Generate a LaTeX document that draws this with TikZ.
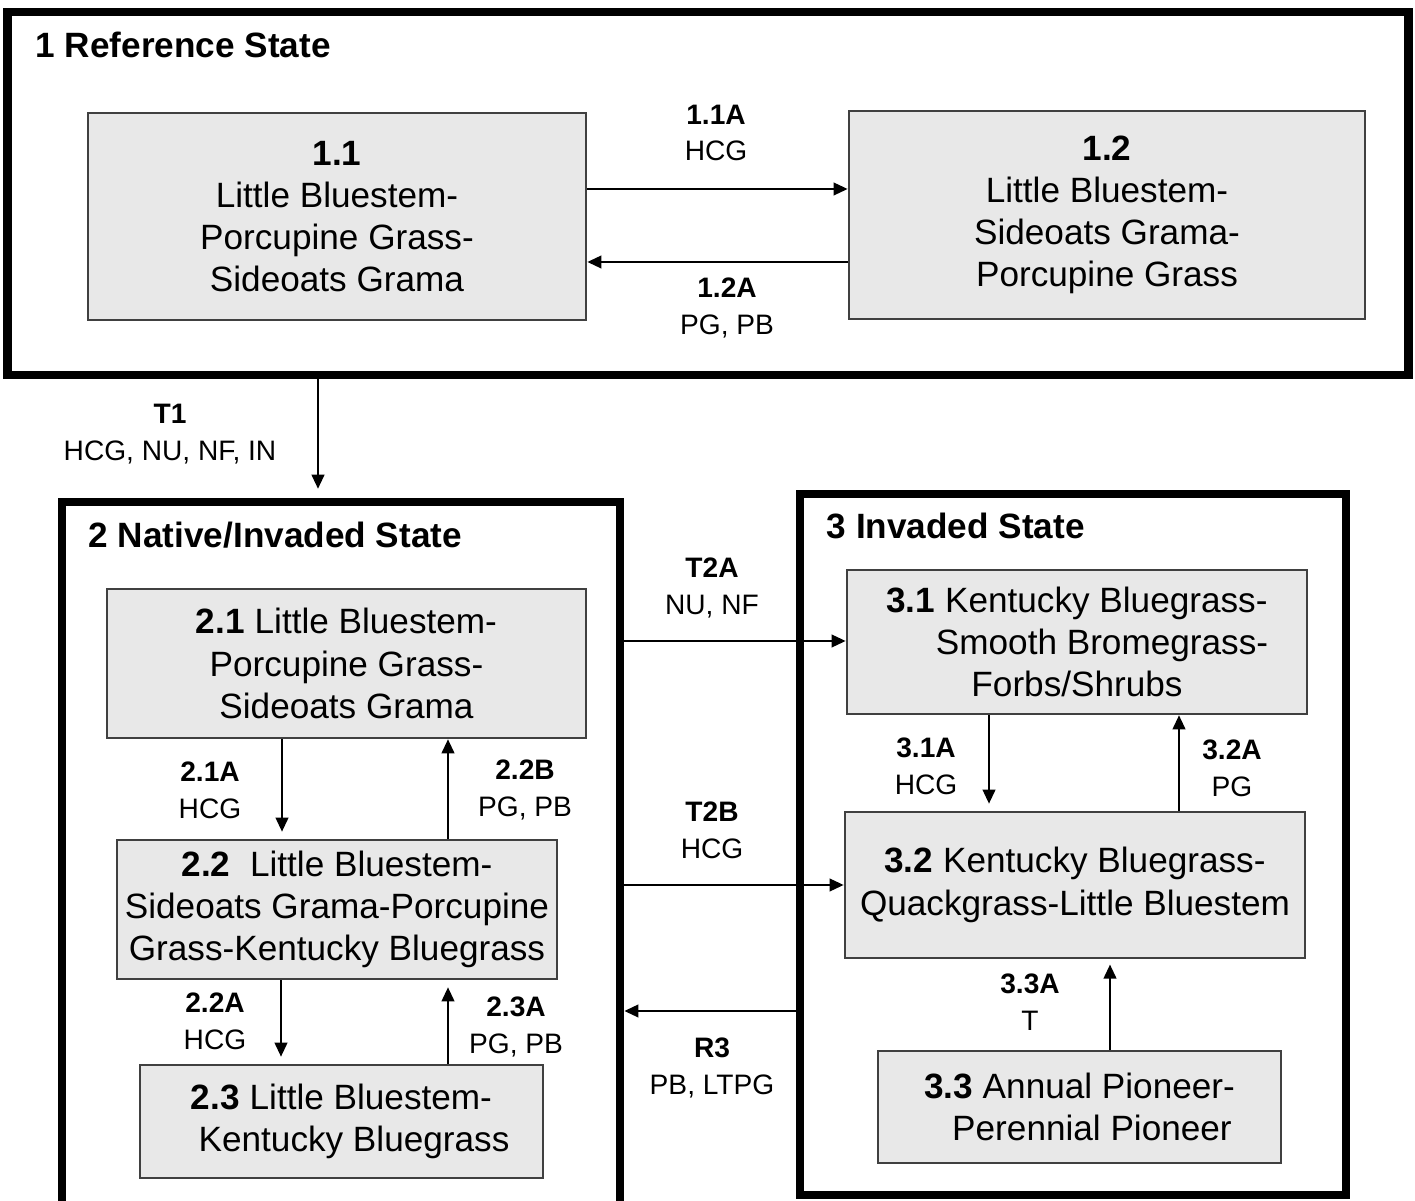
\documentclass[tikz,border=0pt]{standalone}
\usepackage{fontspec}
\setmainfont{Liberation Sans}
\usetikzlibrary{arrows.meta}

\begin{document}
\begin{tikzpicture}[x=0.01cm, y=-0.01cm, >={Triangle[length=4pt,width=3.6pt]},
	frame/.style={draw, line width=2.4pt, rectangle, inner sep=0pt},
	stbox/.style={draw=black!75, line width=0.7pt, fill=gray!18, align=center, inner sep=0pt, font=\fontsize{10}{12}\selectfont},
	title/.style={anchor=west, inner sep=0pt, font=\bfseries\fontsize{10}{12}\selectfont},
	lbl/.style={align=center, inner sep=1pt, font=\fontsize{8}{10.5}\selectfont},
	arr/.style={->, line width=0.6pt}]
	\useasboundingbox (0,0) rectangle (1415,1201);
	
	% ==================== 1 Reference State ====================
	\node[frame, minimum width=14.00cm, minimum height=3.63cm] (s1) at (708,193.5) {};
	\node[title] (t1) at (35,45) {1 Reference State};
	
	\node[stbox, minimum width=4.98cm, minimum height=2.07cm] (b11) at (337,216.5) {\textbf{1.1}\\Little Bluestem-\\Porcupine Grass-\\Sideoats Grama};
	\node[stbox, minimum width=5.16cm, minimum height=2.08cm] (b12) at (1107,215) {\textbf{1.2}\\Little Bluestem-\\Sideoats Grama-\\Porcupine Grass};
	
	\draw[arr] (b11.east |- 0,189) -- (b12.west |- 0,189);
	\draw[arr] (b12.west |- 0,262) -- (b11.east |- 0,262);
	\node[lbl] (l11a) at (716,133) {\textbf{1.1A}\\HCG};
	\node[lbl] (l12a) at (727,308) {\textbf{1.2A}\\PG, PB};
	
	% ==================== 2 Native/Invaded State ====================
	\node[frame, minimum width=5.58cm, minimum height=7.03cm] (s2) at (341,853.5) {};
	\node[title] (t2) at (88,535) {2 Native/Invaded State};
	
	% T1 从状态1到状态2
	\draw[arr, shorten >=2.5pt] (s1.south -| 318,0) -- (s2.north -| 318,0);
	\node[lbl] (lt1) at (170,434) {\textbf{T1}\\HCG, NU, NF, IN};
	
	\node[stbox, minimum width=4.79cm, minimum height=1.49cm] (b21) at (346.5,663.5) {\textbf{2.1} Little Bluestem-\\Porcupine Grass-\\Sideoats Grama};
	\node[stbox, minimum width=4.40cm, minimum height=1.39cm] (b22) at (337,909.5) {\textbf{2.2}\ \ Little Bluestem-\\Sideoats Grama-Porcupine\\Grass-Kentucky Bluegrass};
	\node[stbox, minimum width=4.03cm, minimum height=1.13cm] (b23) at (341.5,1121.5) {\textbf{2.3} Little Bluestem-\\\hspace*{2.5mm}Kentucky Bluegrass};
	
	\draw[arr, shorten >=2pt] (b21.south -| 282,0) -- (b22.north -| 282,0);
	\draw[arr] (b22.north -| 448,0) -- (b21.south -| 448,0);
	\draw[arr, shorten >=2pt] (b22.south -| 281,0) -- (b23.north -| 281,0);
	\draw[arr, shorten >=2pt] (b23.north -| 448,0) -- (b22.south -| 448,0);
	\node[lbl] (l21a) at (210,790) {\textbf{2.1A}\\HCG};
	\node[lbl] (l22b) at (525,790) {\textbf{2.2B}\\PG, PB};
	\node[lbl] (l22a) at (215,1021) {\textbf{2.2A}\\HCG};
	\node[lbl] (l23a) at (516,1027) {\textbf{2.3A}\\PG, PB};
	
	% ==================== 3 Invaded State ====================
	\node[frame, minimum width=5.46cm, minimum height=7.01cm] (s3) at (1073,844.5) {};
	\node[title] (t3) at (826,526) {3 Invaded State};
	
	\node[stbox, minimum width=4.60cm, minimum height=1.44cm] (b31) at (1077,642) {\textbf{3.1} Kentucky Bluegrass-\\\hspace*{5mm}Smooth Bromegrass-\\Forbs/Shrubs};
	\node[stbox, minimum width=4.60cm, minimum height=1.46cm] (b32) at (1075,885) {\textbf{3.2} Kentucky Bluegrass-\\Quackgrass-Little Bluestem};
	\node[stbox, minimum width=4.03cm, minimum height=1.12cm] (b33) at (1079.5,1107) {\textbf{3.3} Annual Pioneer-\\\hspace*{2.5mm}Perennial Pioneer};
	
	\draw[arr, shorten >=2pt] (b31.south -| 989,0) -- (b32.north -| 989,0);
	\draw[arr] (b32.north -| 1179,0) -- (b31.south -| 1179,0);
	\draw[arr, shorten >=1.5pt] (b33.north -| 1110,0) -- (b32.south -| 1110,0);
	\node[lbl] (l31a) at (926,766) {\textbf{3.1A}\\HCG};
	\node[lbl] (l32a) at (1232,768) {\textbf{3.2A}\\PG};
	\node[lbl] (l33a) at (1030,1002) {\textbf{3.3A}\\T};
	
	% 状态之间的转换
	\draw[arr] (s2.east |- 0,641) -- (b31.west |- 0,641);
	\draw[arr] (s2.east |- 0,885) -- (b32.west |- 0,885);
	\draw[arr] (s3.west |- 0,1011) -- (s2.east |- 0,1011);
	\node[lbl] (lt2a) at (712,588) {\textbf{T2A}\\NU, NF};
	\node[lbl] (lt2b) at (712,830) {\textbf{T2B}\\HCG};
	\node[lbl] (lr3) at (712,1068) {\textbf{R3}\\PB, LTPG};
\end{tikzpicture}
\end{document}
